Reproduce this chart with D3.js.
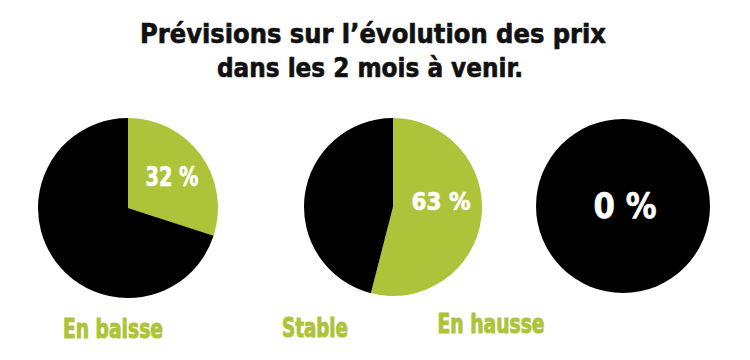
<!DOCTYPE html>
<html><head><meta charset="utf-8">
<script src="https://cdn.jsdelivr.net/npm/d3@7"></script>
<style>html,body{margin:0;padding:0;background:#fff;}svg{display:block;}</style>
</head><body><svg id="c" width="750" height="360"></svg>
<script>
// ---- data ----
const titleLines = ["Prévisions sur l\u2019évolution des prix", "dans les 2 mois à venir."];
const categories = ["En baisse", "Stable", "En hausse"];
const percentLabels = ["32 %", "63 %", "0 %"];
const percentValues = [32, 63, 0];
// slice shares as drawn in the picture (green part)
const drawnShares = [30, 54, 0];

// ---- layout ----
const W = 750, H = 360;
const green = "#adc43a";
const pieCx = [128, 393, 623], pieCy = [208, 207, 206], radius = [90, 89, 87];
const lblPos = [[172, 186, 19, 53], [441, 210, 18, 59], [625, 218, 25, 63]]; // x, baseline, capH, width
const catPos = [[113, 338, 100], [315, 337, 66], [491, 333, 107]];
const font = "'DejaVu Sans Condensed','Liberation Sans Narrow','Liberation Sans',sans-serif";

const svg = d3.select("#c");
svg.append("rect").attr("width", W).attr("height", H).attr("fill", "#fff");

function styled(sel, size, fill, sw) {
  return sel.attr("text-anchor", "middle").attr("font-family", font).attr("font-weight", "bold")
    .attr("font-size", size).attr("fill", fill)
    .attr("stroke", fill).attr("stroke-width", sw).attr("stroke-linejoin", "round")
    .attr("lengthAdjust", "spacingAndGlyphs");
}

// title
const titleSpec = [[373, 43, 466], [370, 77, 306]];
titleLines.forEach((t, i) => {
  styled(svg.append("text"), 26, "#111", 0.6)
    .attr("x", titleSpec[i][0]).attr("y", titleSpec[i][1])
    .attr("textLength", titleSpec[i][2])
    .text(t);
});

const pie = d3.pie().sort(null).value(d => d);
categories.forEach((cat, i) => {
  const g = svg.append("g").attr("transform", `translate(${pieCx[i]},${pieCy[i]})`);
  const arcs = pie([drawnShares[i], 100 - drawnShares[i]]);
  const arc = d3.arc().innerRadius(0).outerRadius(radius[i]);
  g.selectAll("path").data(arcs).join("path")
    .attr("d", arc).attr("fill", (d, j) => j === 0 ? green : "#000");

  const lp = lblPos[i];
  styled(svg.append("text"), lp[2] / 0.72, "#fff", 0.6)
    .attr("x", lp[0]).attr("y", lp[1])
    .attr("textLength", lp[3])
    .text(percentLabels[i]);

  const cp = catPos[i];
  styled(svg.append("text"), 26, green, 1)
    .attr("x", cp[0]).attr("y", cp[1])
    .attr("textLength", cp[2])
    .text(cat);
});
</script></body></html>
